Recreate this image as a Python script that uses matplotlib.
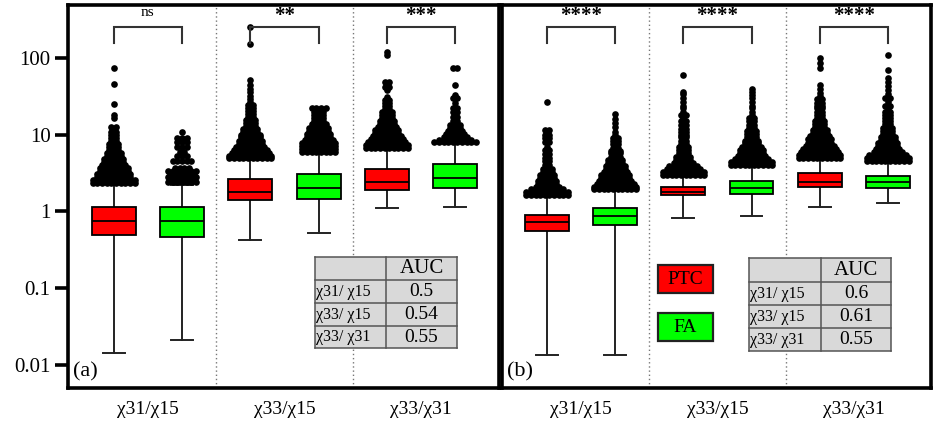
import numpy as np
import matplotlib
matplotlib.use('Agg')
import matplotlib.pyplot as plt
from matplotlib.patches import Rectangle

plt.rcParams['font.family'] = ['Liberation Serif', 'DejaVu Serif']

# ---------------- data ----------------
group_labels = ['χ31/χ15', 'χ33/χ15', 'χ33/χ31']
class_names = ['PTC', 'FA']
class_colors = ['#ff0000', '#00ff00']

# order: PTC g1, FA g1, PTC g2, FA g2, PTC g3, FA g3
a_q1 = [0.49, 0.47, 1.43, 1.47, 1.88, 2.0]
a_med = [0.76, 0.76, 1.82, 2.05, 2.45, 2.7]
a_q3 = [1.16, 1.16, 2.68, 3.1, 3.6, 4.1]
a_lo = [0.0144, 0.021, 0.42, 0.52, 1.12, 1.15]
a_hi = [2.3, 2.2, 4.7, 5.8, 6.6, 7.8]

b_q1 = [0.55, 0.66, 1.62, 1.71, 2.1, 2.05]
b_med = [0.74, 0.86, 1.82, 2.05, 2.4, 2.4]
b_q3 = [0.91, 1.12, 2.1, 2.5, 3.2, 2.9]
b_lo = [0.0135, 0.0135, 0.81, 0.86, 1.16, 1.27]
b_hi = [1.6, 1.9, 2.9, 3.9, 4.9, 4.4]

# outliers: values and number of points at each value
a_fl_vals = [
    [2.38, 2.6, 2.85, 3.12, 3.41, 3.73, 4.08, 4.46, 4.88, 5.34, 5.84, 6.39, 6.99, 7.65, 8.36, 9.15, 10, 10.9, 11.9, 12.7, 16.6, 18, 25, 46, 74],
    [2.4, 2.6, 2.85, 3.1, 3.4, 3.7, 4.5, 5.3, 5.9, 7.0, 8.0, 9.0, 11],
    [4.9, 5.3, 5.8, 6.4, 7.0, 7.6, 8.4, 9.2, 10, 10.9, 11.9, 13.1, 14.3, 15.7, 17.1, 18.7, 20.5, 22.4, 24.5, 26.8, 29, 32, 36, 40, 45, 51, 152, 255],
    [6.0, 6.6, 7.2, 7.9, 8.6, 9.4, 10.3, 11.3, 12.4, 13.6, 15, 16.5, 18, 20, 22],
    [6.8, 7.4, 8.1, 8.9, 9.7, 10.6, 11.6, 12.7, 13.9, 15.2, 16.6, 18.2, 19.9, 21.8, 23.9, 26, 28, 31, 38, 42, 48, 108, 118],
    [8.0, 8.6, 9.4, 10.3, 11.3, 12.4, 13.5, 15, 17, 20, 22, 26, 30, 33, 45, 75],
]
a_fl_counts = [
    [10, 10, 8, 8, 7, 7, 6, 5, 5, 4, 4, 3, 3, 3, 2, 2, 2, 2, 1, 2, 1, 1, 1, 1, 1],
    [7, 6, 7, 6, 7, 4, 5, 3, 2, 3, 3, 3, 1],
    [10, 10, 9, 8, 7, 6, 6, 5, 5, 4, 4, 3, 3, 3, 2, 2, 2, 2, 2, 1, 1, 1, 1, 1, 1, 1, 1, 1],
    [8, 8, 8, 8, 7, 6, 6, 5, 5, 4, 3, 3, 3, 3, 4],
    [10, 10, 9, 8, 7, 6, 6, 5, 4, 4, 3, 3, 3, 2, 2, 2, 2, 1, 1, 2, 2, 1, 1],
    [10, 8, 6, 5, 4, 3, 3, 2, 2, 2, 2, 1, 2, 1, 1, 2],
]
b_fl_vals = [
    [1.66, 1.8, 1.95, 2.1, 2.3, 2.5, 2.7, 3.0, 3.3, 3.6, 4.0, 4.5, 5.0, 5.6, 6.3, 7.0, 8.0, 9, 10, 11.5, 27],
    [1.95, 2.1, 2.3, 2.5, 2.75, 3.0, 3.3, 3.6, 3.95, 4.3, 4.7, 5.2, 5.7, 6.2, 6.8, 7.5, 8.2, 9.0, 10, 11, 12.5, 14, 16, 18.5],
    [3.0, 3.3, 3.6, 3.95, 4.3, 4.7, 5.2, 5.7, 6.3, 6.9, 7.6, 8.4, 9.2, 10, 11, 12, 13.5, 15, 16.5, 18, 20, 22, 24, 27, 30, 34, 36, 60],
    [4.0, 4.4, 4.8, 5.3, 5.8, 6.4, 7.0, 7.7, 8.4, 9.3, 10.2, 11.2, 12.3, 13.5, 15, 16.5, 18, 20, 22, 24, 27, 30, 33, 36, 40],
    [5.0, 5.5, 6.0, 6.6, 7.2, 7.9, 8.7, 9.5, 10.4, 11.4, 12.5, 13.7, 15, 16.5, 18, 20, 22, 24, 26, 29, 32, 35, 39, 44, 74, 86, 100],
    [4.5, 4.9, 5.4, 5.9, 6.5, 7.1, 7.8, 8.5, 9.4, 10.3, 11.3, 12.4, 13.6, 15, 16.5, 18, 20, 22, 24, 27, 30, 34, 38, 43, 48, 55, 70, 110],
]
b_fl_counts = [
    [10, 10, 8, 6, 5, 5, 4, 4, 3, 3, 2, 2, 2, 2, 2, 1, 2, 2, 2, 2, 1],
    [10, 10, 9, 8, 7, 7, 6, 5, 5, 4, 4, 3, 3, 3, 2, 2, 2, 2, 1, 1, 1, 1, 1, 1],
    [10, 10, 8, 7, 5, 4, 4, 3, 3, 3, 2, 2, 2, 2, 2, 2, 2, 2, 1, 2, 1, 1, 1, 1, 1, 1, 1, 1],
    [10, 10, 8, 7, 6, 6, 5, 4, 4, 3, 3, 3, 2, 2, 2, 2, 1, 1, 1, 1, 1, 1, 1, 1, 1],
    [10, 10, 9, 8, 7, 6, 6, 5, 4, 4, 3, 3, 3, 2, 2, 2, 2, 2, 2, 2, 1, 1, 1, 1, 1, 1, 1],
    [10, 10, 9, 7, 6, 5, 5, 4, 4, 3, 3, 3, 2, 2, 2, 2, 2, 1, 2, 1, 2, 1, 1, 1, 1, 1, 1, 1],
]

a_sig = ['ns', '**', '***']
b_sig = ['****', '****', '****']

auc_rows = ['χ31/ χ15', 'χ33/ χ15', 'χ33/ χ31']
a_auc = ['0.5', '0.54', '0.55']
b_auc = ['0.6', '0.61', '0.55']

# ---------------- figure ----------------
W, H = 935, 423
fig = plt.figure(figsize=(W / 100, H / 100), dpi=100)

def fx(px):
    return px / W

def fy(py):
    return 1 - py / H

axA = fig.add_axes([fx(68), fy(388), fx(498.5) - fx(68), fy(5) - fy(388)])
axB = fig.add_axes([fx(501.5), fy(388), fx(931) - fx(501.5), fy(5) - fy(388)])

positions = np.arange(6)
box_w = 0.645
dx = 0.068
ylo, yhi = 10 ** -2.30, 10 ** 2.69


def draw_panel(ax, q1, med, q3, lo, hi, fl_vals, fl_counts, sig, letter):
    ax.set_yscale('log')
    stats = []
    for i in range(6):
        stats.append(dict(med=med[i], q1=q1[i], q3=q3[i], whislo=lo[i], whishi=hi[i], fliers=[]))
    bp = ax.bxp(stats, positions=positions, widths=box_w, patch_artist=True,
                showfliers=False,
                boxprops=dict(linewidth=1.3, edgecolor='black'),
                medianprops=dict(color='black', linewidth=1.3),
                whiskerprops=dict(color='#222222', linewidth=1.4),
                capprops=dict(color='#222222', linewidth=1.4))
    for i, b in enumerate(bp['boxes']):
        b.set_facecolor(class_colors[i % 2])
        b.set_zorder(3)
    for m in bp['medians']:
        m.set_zorder(4)
    # outliers
    for i in range(6):
        xs, ys = [], []
        for v, n in zip(fl_vals[i], fl_counts[i]):
            offs = (np.arange(n) - (n - 1) / 2) * dx
            xs.extend(positions[i] + offs)
            ys.extend([v] * n)
        ax.plot(xs, ys, 'o', color='black', ms=4.8, mew=0, zorder=5)
    # separators
    for s in [1.5, 3.5]:
        ax.axvline(s, color='#777777', linestyle=(0, (1, 2)), linewidth=1.0, zorder=1)
    # brackets and significance
    for g in range(3):
        xl, xr = positions[2 * g], positions[2 * g + 1]
        ax.plot([xl, xl, xr, xr], [157, 253, 253, 157], color='#333333', linewidth=1.5,
                solid_joinstyle='miter', zorder=6)
        if sig[g] == 'ns':
            ax.text((xl + xr) / 2, 395, sig[g], ha='center', va='center', fontsize=11)
        else:
            ax.text((xl + xr) / 2, 355, sig[g], ha='center', va='center', fontsize=15,
                    fontweight='bold')
    ax.set_xlim(-0.67, 5.635)
    ax.set_ylim(ylo, yhi)
    ax.set_xticks([])
    ax.text(0.012, 0.018, letter, transform=ax.transAxes, fontsize=16, ha='left', va='bottom')
    for sp in ax.spines.values():
        sp.set_linewidth(2.6)
        sp.set_color('black')
    # group labels
    for g in range(3):
        ax.text(positions[2 * g] + 0.5, -0.055, group_labels[g], transform=ax.get_xaxis_transform(),
                ha='center', va='center', fontsize=14)


draw_panel(axA, a_q1, a_med, a_q3, a_lo, a_hi, a_fl_vals, a_fl_counts, a_sig, '(a)')
draw_panel(axB, b_q1, b_med, b_q3, b_lo, b_hi, b_fl_vals, b_fl_counts, b_sig, '(b)')

axA.set_yticks([0.01, 0.1, 1, 10, 100])
axA.set_yticklabels(['0.01', '0.1', '1', '10', '100'], fontsize=15)
axA.yaxis.set_minor_locator(matplotlib.ticker.NullLocator())
axA.tick_params(axis='y', length=9.5, width=2.6, pad=3)
axB.set_yticks([])
axB.yaxis.set_minor_locator(matplotlib.ticker.NullLocator())


# ---------------- tables ----------------
def draw_table(x0, xm, x1, ys, rows, vals):
    bg = Rectangle((fx(x0), fy(ys[-1])), fx(x1) - fx(x0), fy(ys[0]) - fy(ys[-1]),
                   transform=fig.transFigure, facecolor='#d9d9d9', edgecolor='none', zorder=10)
    fig.patches.append(bg)
    lc = '#555555'
    for y in ys:
        fig.add_artist(plt.Line2D([fx(x0), fx(x1)], [fy(y), fy(y)], color=lc, lw=1.1, zorder=11))
    for x in [x0, xm, x1]:
        fig.add_artist(plt.Line2D([fx(x), fx(x)], [fy(ys[0]), fy(ys[-1])], color=lc, lw=1.1, zorder=11))
    fig.text(fx((xm + x1) / 2), fy((ys[0] + ys[1]) / 2), 'AUC', ha='center', va='center',
             fontsize=15, zorder=12)
    for r in range(3):
        yc = fy((ys[r + 1] + ys[r + 2]) / 2)
        fig.text(fx(x0 + 1), yc, rows[r], ha='left', va='center', fontsize=11.5, zorder=12)
        fig.text(fx((xm + x1) / 2), yc, vals[r], ha='center', va='center', fontsize=14, zorder=12)


draw_table(315, 386, 457, [257, 280, 303, 326, 348], auc_rows, a_auc)
draw_table(749, 821, 891, [258, 282, 305, 328, 351], auc_rows, b_auc)

# legend boxes
for i, (name, col) in enumerate(zip(class_names, class_colors)):
    y0 = [265, 313][i]
    fig.patches.append(Rectangle((fx(658), fy(y0 + 28)), fx(713) - fx(658), fy(y0) - fy(y0 + 28),
                                 transform=fig.transFigure, facecolor=col, edgecolor='#222222',
                                 lw=1.6, zorder=10))
    fig.text(fx(685.5), fy(y0 + 14), name, ha='center', va='center', fontsize=14, zorder=12)

fig.savefig('out.png', dpi=100)
